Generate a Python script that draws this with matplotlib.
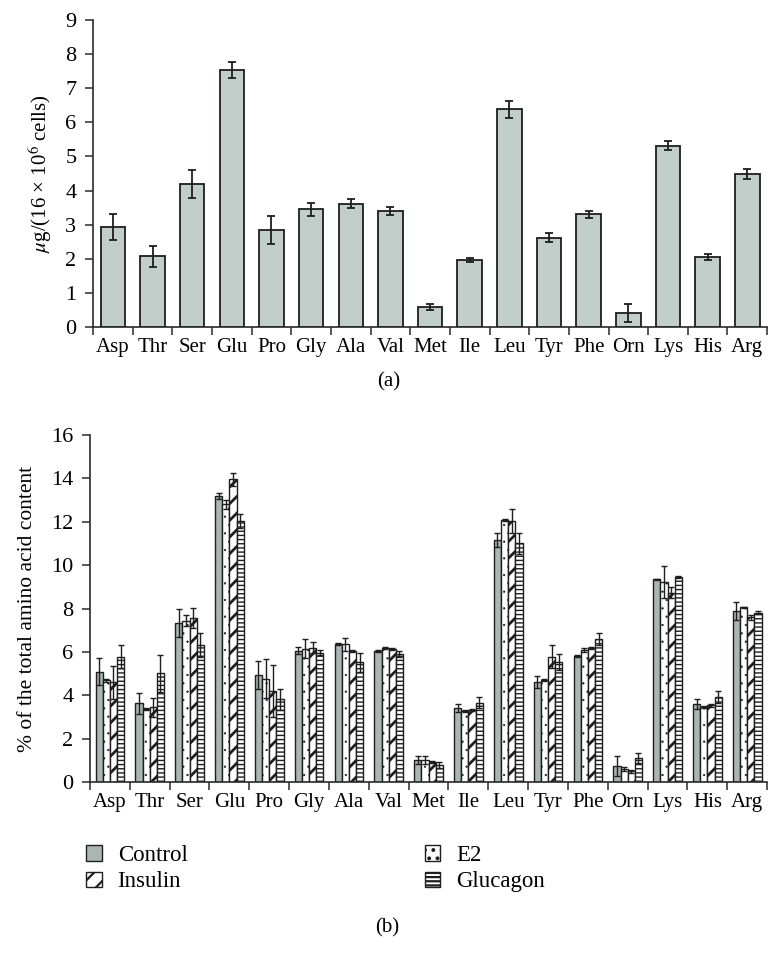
import numpy as np
import matplotlib.pyplot as plt
from matplotlib.patches import Patch

plt.rcParams['font.family'] = ['Liberation Serif', 'DejaVu Serif']
plt.rcParams['mathtext.fontset'] = 'stix'
plt.rcParams['hatch.linewidth'] = 1.6

# ---- data ----
amino = ['Asp', 'Thr', 'Ser', 'Glu', 'Pro', 'Gly', 'Ala', 'Val', 'Met',
         'Ile', 'Leu', 'Tyr', 'Phe', 'Orn', 'Lys', 'His', 'Arg']

# (a) ug / 16x10^6 cells
conc = [2.92, 2.07, 4.19, 7.54, 2.84, 3.45, 3.61, 3.40, 0.59,
        1.96, 6.38, 2.62, 3.31, 0.41, 5.32, 2.05, 4.49]
conc_err = [0.38, 0.31, 0.42, 0.24, 0.41, 0.20, 0.13, 0.11, 0.09,
            0.06, 0.24, 0.13, 0.10, 0.26, 0.12, 0.09, 0.15]

# (b) % of total amino acid content
groups = ['Control', 'E2', 'Insulin', 'Glucagon']
control = [5.09, 3.63, 7.33, 13.19, 4.94, 6.06, 6.37, 6.03, 1.03,
           3.42, 11.15, 4.63, 5.81, 0.75, 9.34, 3.60, 7.88]
control_err = [0.62, 0.50, 0.66, 0.14, 0.63, 0.17, 0.05, 0.05, 0.18,
               0.18, 0.32, 0.28, 0.04, 0.45, 0.04, 0.23, 0.43]
e2 = [4.69, 3.37, 7.44, 12.79, 4.77, 6.15, 6.35, 6.20, 1.03,
      3.30, 12.06, 4.71, 6.09, 0.60, 9.22, 3.48, 8.05]
e2_err = [0.05, 0.06, 0.26, 0.20, 0.90, 0.43, 0.30, 0.04, 0.17,
          0.05, 0.04, 0.06, 0.10, 0.10, 0.75, 0.05, 0.04]
insulin = [4.60, 3.45, 7.55, 13.94, 4.22, 6.20, 6.06, 6.12, 0.94,
           3.33, 12.02, 5.78, 6.18, 0.50, 8.73, 3.55, 7.59]
insulin_err = [0.75, 0.45, 0.46, 0.31, 1.20, 0.27, 0.05, 0.05, 0.06,
               0.05, 0.55, 0.54, 0.04, 0.08, 0.25, 0.06, 0.10]
glucagon = [5.78, 5.02, 6.32, 12.04, 3.82, 5.97, 5.52, 5.90, 0.80,
            3.67, 11.01, 5.54, 6.58, 1.10, 9.45, 3.94, 7.81]
glucagon_err = [0.54, 0.85, 0.55, 0.32, 0.49, 0.10, 0.42, 0.13, 0.14,
                0.24, 0.48, 0.35, 0.28, 0.23, 0.05, 0.28, 0.08]

values_b = [control, e2, insulin, glucagon]
errors_b = [control_err, e2_err, insulin_err, glucagon_err]
fills = ['#a9b6b4', 'white', 'white', 'white']
hatches = [None, '..', '//', '----']
hatch_lw = [1.0, 0.4, 2.0, 1.0]

EDGE = '#1e1e1e'
AXC = '#2a2a2a'

fig = plt.figure(figsize=(7.82, 9.71), dpi=100)
ax_a = fig.add_axes([0.119, 0.6632, 0.862, 0.3162])
ax_b = fig.add_axes([0.115, 0.1943, 0.866, 0.3580])

x = np.arange(len(amino))


def style_axis(ax, ymax, ystep):
    ax.set_xlim(-0.5, len(amino) - 0.5)
    ax.set_ylim(0, ymax)
    ax.set_yticks(np.arange(0, ymax + 0.01, ystep))
    ax.set_xticks(np.arange(-0.5, len(amino)), minor=False)
    ax.set_xticklabels([])
    ax.set_xticks(x, minor=True)
    ax.set_xticklabels(amino, minor=True)
    ax.tick_params(axis='x', which='major', direction='out', length=6,
                   width=1.1, color=AXC)
    ax.tick_params(axis='x', which='minor', length=0, pad=8, labelsize=15)
    ax.tick_params(axis='y', direction='out', length=6, width=1.1,
                   color=AXC, labelsize=16, pad=6)
    for s in ['top', 'right']:
        ax.spines[s].set_visible(False)
    for s in ['left', 'bottom']:
        ax.spines[s].set_color(AXC)
        ax.spines[s].set_linewidth(1.2)


def set_hlw(patches, lw):
    for p in patches:
        if hasattr(p, 'set_hatch_linewidth'):
            p.set_hatch_linewidth(lw)


# ---- panel (a) ----
ax_a.bar(x, conc, width=0.62, color='#c2ceca', edgecolor=EDGE, linewidth=1.3,
         yerr=conc_err, capsize=3,
         error_kw=dict(ecolor=EDGE, elinewidth=1.3, capthick=1.3), zorder=2)
style_axis(ax_a, 9, 1)
ax_a.set_ylabel(r'$\mu$g/(16 × 10$^6$ cells)', fontsize=15, labelpad=8)

# ---- panel (b) ----
w = 0.18
for i in range(4):
    bars = ax_b.bar(x + (i - 1.5) * w, values_b[i], width=w, color=fills[i],
                    hatch=hatches[i], edgecolor=EDGE, linewidth=1.0,
                    yerr=errors_b[i], capsize=2.2,
                    error_kw=dict(ecolor=EDGE, elinewidth=1.0, capthick=1.0),
                    zorder=2)
    set_hlw(bars.patches, hatch_lw[i])
style_axis(ax_b, 16, 2)
ax_b.set_ylabel('% of the total amino acid content', fontsize=15.5, labelpad=10)

fig.text(0.497, 0.6066, '(a)', ha='center', va='center', fontsize=15)
fig.text(0.495, 0.044, '(b)', ha='center', va='center', fontsize=15)

# legend: two columns placed separately
handles = [Patch(facecolor=fills[i], edgecolor=EDGE, hatch=hatches[i],
                 linewidth=1.0, label=groups[i]) for i in range(4)]
for i in range(4):
    set_hlw([handles[i]], hatch_lw[i])
leg_kw = dict(frameon=False, fontsize=16.5, handlelength=0.68,
              handleheight=0.68, handletextpad=0.7, labelspacing=0.25,
              borderaxespad=0, borderpad=0, loc='upper left')
fig.legend([handles[0], handles[2]], ['Control', 'Insulin'],
           bbox_to_anchor=(0.110, 0.130), **leg_kw)
fig.legend([handles[1], handles[3]], ['E2', 'Glucagon'],
           bbox_to_anchor=(0.543, 0.130), **leg_kw)

fig.savefig('out.png', dpi=100)
